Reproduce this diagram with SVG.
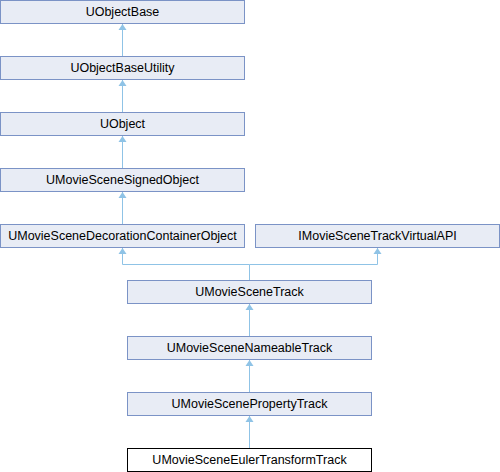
<svg xmlns="http://www.w3.org/2000/svg" width="500" height="472" viewBox="0 0 500 472">
<style>
.n rect{fill:#e8ecf5;stroke:#7b93c6;stroke-width:1}
.n.cur rect{fill:#ffffff;stroke:#000000}
.n text{font-family:"Liberation Sans",Arial,sans-serif;font-size:12.5px;fill:#000;text-anchor:middle}
.e{fill:none;stroke:#8fc3e6;stroke-width:1}
</style>
<rect width="500" height="472" fill="#fff"/>
<g id="connectors">
<path class="e" d="M122.5,56 V24"/>
<path class="e" d="M122.5,112 V80"/>
<path class="e" d="M122.5,168 V136"/>
<path class="e" d="M122.5,224 V192"/>
<path class="e" d="M249.5,280 V264.5 H122.5 V248"/>
<path class="e" d="M249.5,264.5 H377.5 V248"/>
<path class="e" d="M249.5,336 V304"/>
<path class="e" d="M249.5,392 V360"/>
<path class="e" d="M249.5,448 V416"/>
<g fill="#8fc3e6">
<path d="M122.5,24 L118.5,30 L126.5,30 Z"/>
<path d="M122.5,80 L118.5,86 L126.5,86 Z"/>
<path d="M122.5,136 L118.5,142 L126.5,142 Z"/>
<path d="M122.5,192 L118.5,198 L126.5,198 Z"/>
<path d="M122.5,248 L118.5,254 L126.5,254 Z"/>
<path d="M377.5,248 L373.5,254 L381.5,254 Z"/>
<path d="M249.5,304 L245.5,310 L253.5,310 Z"/>
<path d="M249.5,360 L245.5,366 L253.5,366 Z"/>
<path d="M249.5,416 L245.5,422 L253.5,422 Z"/>
</g>
</g>
<g id="UObjectBase" class="n"><rect x="0.5" y="0.5" width="244" height="23"/><text x="122.5" y="16">UObjectBase</text></g>
<g id="UObjectBaseUtility" class="n"><rect x="0.5" y="56.5" width="244" height="23"/><text x="122.5" y="72">UObjectBaseUtility</text></g>
<g id="UObject" class="n"><rect x="0.5" y="112.5" width="244" height="23"/><text x="122.5" y="128">UObject</text></g>
<g id="UMovieSceneSignedObject" class="n"><rect x="0.5" y="168.5" width="244" height="23"/><text x="122.5" y="184">UMovieSceneSignedObject</text></g>
<g id="UMovieSceneDecorationContainerObject" class="n"><rect x="0.5" y="224.5" width="244" height="23"/><text x="122.5" y="240">UMovieSceneDecorationContainerObject</text></g>
<g id="IMovieSceneTrackVirtualAPI" class="n"><rect x="255.5" y="224.5" width="244" height="23"/><text x="377.5" y="240">IMovieSceneTrackVirtualAPI</text></g>
<g id="UMovieSceneTrack" class="n"><rect x="127.5" y="280.5" width="244" height="23"/><text x="249.5" y="296">UMovieSceneTrack</text></g>
<g id="UMovieSceneNameableTrack" class="n"><rect x="127.5" y="336.5" width="244" height="23"/><text x="249.5" y="352">UMovieSceneNameableTrack</text></g>
<g id="UMovieScenePropertyTrack" class="n"><rect x="127.5" y="392.5" width="244" height="23"/><text x="249.5" y="408">UMovieScenePropertyTrack</text></g>
<g id="UMovieSceneEulerTransformTrack" class="n cur"><rect x="127.5" y="448.5" width="244" height="23"/><text x="249.5" y="464">UMovieSceneEulerTransformTrack</text></g>
</svg>
